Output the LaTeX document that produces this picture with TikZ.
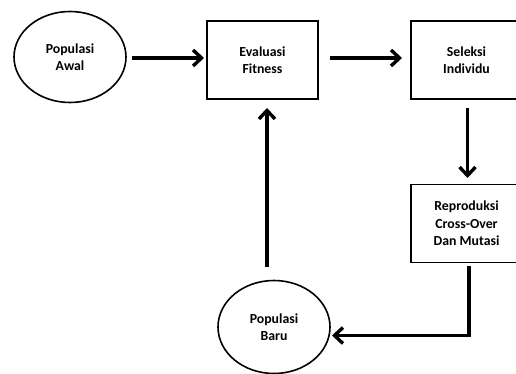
\documentclass[tikz,border=0pt]{standalone}
\usepackage{fontspec}
\setmainfont{Carlito}
\usetikzlibrary{arrows.meta,shapes.geometric}
\begin{document}
\begin{tikzpicture}[x=1pt,y=-1pt,
  every node/.style={font=\fontsize{13.8}{17.5}\selectfont\bfseries, align=center, inner sep=0pt},
  oval/.style={draw, ellipse, line width=1.6pt, minimum width=112pt, minimum height=91pt},
  boxstep/.style={draw, rectangle, line width=1.6pt, minimum width=111pt, minimum height=78pt},
  flow/.style={line width=3.8pt, -{Straight Barb[length=8.5pt,width=16pt,line width=3.4pt]}}]
\useasboundingbox (0,0) rectangle (516,374);
\clip (0,0) rectangle (516,374);
\node[oval] (awal) at (70,57) {Populasi\\Awal};
\node[boxstep] (eval) at (262.5,60) {Evaluasi\\Fitness};
\node[boxstep] (sel) at (466.5,60) {Seleksi\\Individu};
\node[boxstep] (rep) at (466.5,223.5) {Reproduksi\\ Cross-Over\\Dan Mutasi};
\node[oval, minimum height=93pt] (baru) at (274,327) {Populasi\\Baru};
\coordinate (a1s) at (132,58);
\coordinate (a1e) at (204,58);
\coordinate (a2s) at (330,58);
\coordinate (a2e) at (402,58);
\coordinate (d1s) at (467.5,108);
\coordinate (d1e) at (467.5,178);
\coordinate (r1s) at (469,266);
\coordinate (r1c) at (469,335.5);
\coordinate (r1e) at (332,335.5);
\coordinate (u1s) at (267,267);
\coordinate (u1e) at (267,108);
\draw[flow] (a1s) -- (a1e);
\draw[flow] (a2s) -- (a2e);
\draw[flow] (d1s) -- (d1e);
\draw[flow, line join=miter] (r1s) -- (r1c) -- (r1e);
\draw[flow] (u1s) -- (u1e);
\end{tikzpicture}
\end{document}
